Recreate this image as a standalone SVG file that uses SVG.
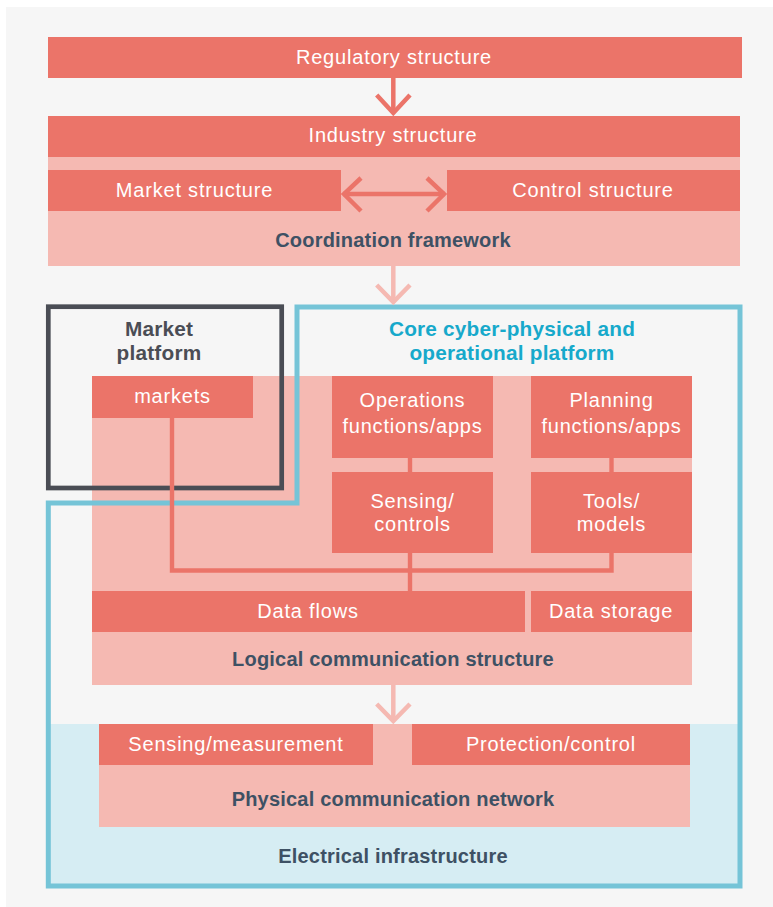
<svg xmlns="http://www.w3.org/2000/svg" width="773" height="907" viewBox="0 0 773 907">
<style>
.red{fill:#eb7469}
.pale{fill:#f5b9b2}
.t{font-family:"Liberation Sans",Arial,sans-serif;font-size:20px;fill:#ffffff;text-anchor:middle;letter-spacing:0.8px}
.b{font-family:"Liberation Sans",Arial,sans-serif;font-size:20px;font-weight:bold;fill:#3e5164;text-anchor:middle;letter-spacing:0.2px}
.h{font-family:"Liberation Sans",Arial,sans-serif;font-size:20.8px;font-weight:bold;text-anchor:middle;letter-spacing:0.2px}
.conn{fill:none;stroke:#eb7469;stroke-width:4.4}
.arr{fill:none;stroke:#eb7469;stroke-width:4.5}
.arrp{fill:none;stroke:#f5b9b2;stroke-width:4.5}
</style>
<rect x="0" y="0" width="773" height="907" fill="#ffffff"/>
<rect x="6" y="7" width="767" height="900" fill="#f6f6f6"/>

<g id="regulatory">
<rect class="red" x="48" y="37" width="694" height="41"/>
<text class="t" x="394" y="64">Regulatory structure</text>
</g>

<g id="coordination">
<rect class="pale" x="48" y="157" width="692" height="109"/>
<text class="b" x="393" y="247">Coordination framework</text>
</g>
<g id="industry">
<rect class="red" x="48" y="116" width="692" height="41"/>
<text class="t" x="393" y="142">Industry structure</text>
</g>
<g id="market-structure">
<rect class="red" x="48" y="170" width="293" height="41"/>
<text class="t" x="194.5" y="197">Market structure</text>
</g>
<g id="control-structure">
<rect class="red" x="447" y="170" width="293" height="41"/>
<text class="t" x="593" y="197">Control structure</text>
</g>

<g id="electrical">
<rect x="48" y="724" width="692" height="162" fill="#d6edf3"/>
<text class="b" x="393" y="863">Electrical infrastructure</text>
</g>

<g id="logical">
<rect class="pale" x="92" y="376" width="600" height="309"/>
<text class="b" x="393" y="666">Logical communication structure</text>
</g>

<g id="physical">
<rect class="pale" x="99" y="724" width="591" height="103"/>
<text class="b" x="393" y="806">Physical communication network</text>
</g>

<g id="market-platform">
<rect x="48.3" y="306.7" width="233.4" height="181.3" fill="none" stroke="#4a4d55" stroke-width="4.7"/>
<text class="h" x="159" y="336" style="fill:#4a4d55">Market</text>
<text class="h" x="159" y="360" style="fill:#4a4d55">platform</text>
</g>

<g id="core-platform">
<path d="M297,307 H740 V886 H48.3 V503 H297 Z" fill="none" stroke="#75c4d7" stroke-width="5"/>
<text class="h" x="512" y="336" style="fill:#17a9cb">Core cyber-physical and</text>
<text class="h" x="512" y="360" style="fill:#17a9cb">operational platform</text>
</g>

<g id="connectors">
<path class="arr" d="M393.3,78 V113"/>
<path class="arr" d="M376.7,95 L393.3,113 L410,95"/>
<path class="arr" d="M343,194 H445"/>
<path class="arr" d="M361,178 L344,194 L361,211"/>
<path class="arr" d="M427,178 L444,194 L427,211"/>
<path class="arrp" d="M393.3,266 V302"/>
<path class="arrp" d="M376.7,285 L393.3,302 L410,285"/>
<path class="arrp" d="M393.3,685 V721"/>
<path class="arrp" d="M376.7,704 L393.3,721 L410,704"/>
<path class="conn" d="M172,418 V570.5 H611.5 V553"/>
<path class="conn" d="M611.5,458 V472"/>
<path class="conn" d="M410,458 V472"/>
<path class="conn" d="M410,553 V591"/>
</g>

<g id="markets">
<rect class="red" x="92" y="376" width="161" height="42"/>
<text class="t" x="172.5" y="403">markets</text>
</g>
<g id="operations">
<rect class="red" x="332" y="376" width="161" height="82"/>
<text class="t" x="412.5" y="407">Operations</text>
<text class="t" x="412.5" y="433">functions/apps</text>
</g>
<g id="planning">
<rect class="red" x="531" y="376" width="161" height="82"/>
<text class="t" x="611.5" y="407">Planning</text>
<text class="t" x="611.5" y="433">functions/apps</text>
</g>
<g id="sensing-controls">
<rect class="red" x="332" y="472" width="161" height="81"/>
<text class="t" x="412.5" y="508">Sensing/</text>
<text class="t" x="412.5" y="531">controls</text>
</g>
<g id="tools-models">
<rect class="red" x="531" y="472" width="161" height="81"/>
<text class="t" x="611.5" y="508">Tools/</text>
<text class="t" x="611.5" y="531">models</text>
</g>
<g id="data-flows">
<rect class="red" x="92" y="591" width="433" height="41"/>
<text class="t" x="308" y="618">Data flows</text>
</g>
<g id="data-storage">
<rect class="red" x="531" y="591" width="161" height="41"/>
<text class="t" x="611" y="618">Data storage</text>
</g>
<g id="sensing-measurement">
<rect class="red" x="99" y="724" width="274" height="41"/>
<text class="t" x="236" y="751">Sensing/measurement</text>
</g>
<g id="protection-control">
<rect class="red" x="412" y="724" width="278" height="41"/>
<text class="t" x="551" y="751">Protection/control</text>
</g>
</svg>
